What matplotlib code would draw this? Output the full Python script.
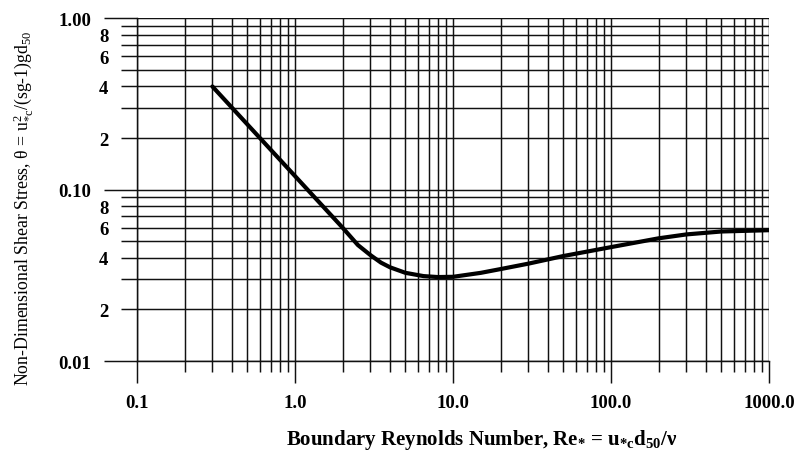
import matplotlib
matplotlib.use("Agg")
import matplotlib.pyplot as plt
from matplotlib.ticker import FixedLocator, FixedFormatter, NullFormatter

# Shields curve
RE_STAR = [0.3, 0.5, 1.0, 2.0, 2.5, 3.0, 3.5, 4.0, 5.0, 6.5, 8.0, 10.0, 15.0, 20.0,
           30.0, 50.0, 100.0, 200.0, 300.0, 500.0, 1000.0]
THETA = [0.40, 0.24, 0.12, 0.060, 0.0475, 0.0415, 0.0375, 0.0352, 0.0327, 0.0313, 0.0309,
         0.0310, 0.0327, 0.0344, 0.0370, 0.0410, 0.0462, 0.0520, 0.0548, 0.0570, 0.0580]

X_MAJOR = [0.1, 1.0, 10.0, 100.0, 1000.0]
X_MAJOR_LABELS = ["0.1", "1.0", "10.0", "100.0", "1000.0"]
X_MINOR = [m * d for d in (0.1, 1.0, 10.0, 100.0) for m in range(2, 10)]

Y_MAJOR = [0.01, 0.1, 1.0]
Y_MAJOR_LABELS = ["0.01", "0.10", "1.00"]
Y_MINOR = [m * d for d in (0.01, 0.1) for m in range(2, 10)]
Y_MINOR_LABELS = [str(m) if m % 2 == 0 else "" for d in (0.01, 0.1) for m in range(2, 10)]

SERIF = "Liberation Serif"
LINE = "#111111"

plt.rcParams.update({
    "font.family": SERIF,
    "mathtext.fontset": "custom",
    "mathtext.rm": SERIF,
    "mathtext.it": SERIF + ":italic",
    "mathtext.bf": SERIF + ":bold",
})

fig = plt.figure(figsize=(7.99, 4.52), dpi=100)
ax = fig.add_axes([0.1715, 0.1991, 0.7910, 0.7582])

ax.plot(RE_STAR, THETA, color="black", lw=3.0, solid_capstyle="round",
        solid_joinstyle="round", zorder=5)

ax.set_xscale("log")
ax.set_yscale("log")
ax.set_xlim(0.1, 1000)
ax.set_ylim(0.01, 1.0)

ax.xaxis.set_major_locator(FixedLocator(X_MAJOR))
ax.xaxis.set_major_formatter(FixedFormatter(X_MAJOR_LABELS))
ax.xaxis.set_minor_locator(FixedLocator(X_MINOR))
ax.xaxis.set_minor_formatter(NullFormatter())
ax.yaxis.set_major_locator(FixedLocator(Y_MAJOR))
ax.yaxis.set_major_formatter(FixedFormatter(Y_MAJOR_LABELS))
ax.yaxis.set_minor_locator(FixedLocator(Y_MINOR))
ax.yaxis.set_minor_formatter(FixedFormatter(Y_MINOR_LABELS))

ax.grid(True, which="both", color=LINE, lw=1.05)
ax.set_axisbelow(True)
for side in ("top", "right"):
    ax.spines[side].set_visible(False)
for side in ("left", "bottom"):
    ax.spines[side].set_color(LINE)
    ax.spines[side].set_linewidth(1.05)

tick_font = dict(family=SERIF, weight="bold", size=13.5)
ax.tick_params(axis="x", which="major", direction="out", length=15.8, width=1.05,
               color=LINE, pad=8)
ax.tick_params(axis="x", which="minor", direction="out", length=7.9, width=1.05,
               color=LINE)
ax.tick_params(axis="y", which="major", direction="out", length=23.8, width=1.05,
               color=LINE, pad=9)
ax.tick_params(axis="y", which="minor", direction="out", length=11.5, width=1.05,
               color=LINE, pad=9)
for lab in ax.get_xticklabels() + ax.get_yticklabels() + ax.get_yticklabels(minor=True):
    lab.set_fontproperties(tick_font)

fig.text(0.603, 0.027,
         r"Boundary Reynolds Number, Re$_{\mathbf{*}}$ = u$_{\mathbf{*c}}$d$_{\mathbf{50}}$/ν",
         ha="center", va="center", fontsize=15, fontweight="bold", family=SERIF)
fig.text(0.029, 0.54,
         r"Non-Dimensional Shear Stress, θ = u$_{\mathrm{*c}}^{\mathrm{2}}$/(sg-1)gd$_{\mathrm{50}}$",
         ha="center", va="center", rotation=90, fontsize=12.8, family=SERIF)

fig.savefig("out.png", dpi=100)
